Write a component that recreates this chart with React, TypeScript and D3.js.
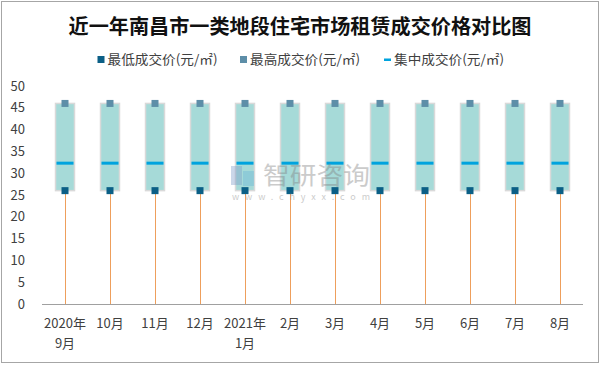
import React from "react";
import * as d3 from "d3";

const months = ["2020年\n9月", "10月", "11月", "12月", "2021年\n1月", "2月", "3月", "4月", "5月", "6月", "7月", "8月"];
const lowValues = [26, 26, 26, 26, 26, 26, 26, 26, 26, 26, 26, 26];
const highValues = [46, 46, 46, 46, 46, 46, 46, 46, 46, 46, 46, 46];
const medianValues = [32.3, 32.3, 32.3, 32.3, 32.3, 32.3, 32.3, 32.3, 32.3, 32.3, 32.3, 32.3];
const yTicks = [0, 5, 10, 15, 20, 25, 30, 35, 40, 45, 50];
const legendLabels = ["最低成交价(元/㎡)", "最高成交价(元/㎡)", "集中成交价(元/㎡)"];
const title = "近一年南昌市一类地段住宅市场租赁成交价格对比图";

const W = 600;
const H = 368;
const FONT = "'Noto Sans CJK SC', 'Noto Sans', sans-serif";

export default function App() {
  const x = d3.scaleBand<string>().domain(months).range([42.5, 582.5]).padding(0);
  const y = d3.scaleLinear().domain([0, 50]).range([304, 86]);
  const cx = (m: string) => (x(m) as number) + x.bandwidth() / 2;
  const boxW = 19;
  const mk = 7;

  const lowColor = "#0B5F86";
  const highColor = "#5D8EA8";
  const medColor = "#00A3DE";
  const textColor = "#404040";

  const legendItems = [
    { label: legendLabels[0], x: 97.5, type: "square", color: lowColor },
    { label: legendLabels[1], x: 240, type: "square", color: highColor },
    { label: legendLabels[2], x: 384, type: "dash", color: medColor },
  ];

  return (
    <svg width={W} height={H} style={{ position: "absolute", left: 0, top: 0, background: "#fff" }} fontFamily={FONT}>
      <rect x={1.5} y={1.5} width={W - 3} height={H - 7} fill="#fff" stroke="#A6A6A6" strokeWidth={1} />
      <text x={300} y={34} textAnchor="middle" fontSize={20} fontWeight="bold" fill="#111" textLength={463} lengthAdjust="spacingAndGlyphs">
        {title}
      </text>
      {legendItems.map((it, i) => (
        <g key={i}>
          {it.type === "square" ? (
            <rect x={it.x} y={56} width={7} height={7} fill={it.color} />
          ) : (
            <rect x={it.x} y={58.5} width={7} height={2.5} fill={it.color} />
          )}
          <text x={it.x + 10} y={64} fontSize={13} fill={textColor} textLength={110} lengthAdjust="spacingAndGlyphs">
            {it.label}
          </text>
        </g>
      ))}
      {yTicks.map((t) => (
        <text key={t} x={25} y={y(t) + 4.5} textAnchor="end" fontSize={13} fill={textColor}>
          {t}
        </text>
      ))}
      <line x1={42} x2={583} y1={304.5} y2={304.5} stroke="#A0A0A0" strokeWidth={1} />
      {months.map((m, i) => {
        const c = cx(m);
        return (
          <g key={m}>
            <line x1={c + 0.5} x2={c + 0.5} y1={y(0)} y2={y(lowValues[i])} stroke="#EE9F5C" strokeWidth={1} />
            <rect x={c - boxW / 2} y={y(highValues[i])} width={boxW} height={y(lowValues[i]) - y(highValues[i])} fill="#A6DAD8" stroke="#D9D9D9" strokeWidth={1.5} />
            <line x1={c - boxW / 2 + 1} x2={c + boxW / 2 - 1} y1={y(medianValues[i])} y2={y(medianValues[i])} stroke={medColor} strokeWidth={3} />
            <rect x={c - mk / 2} y={y(highValues[i]) - mk / 2} width={mk} height={mk} fill={highColor} />
            <rect x={c - mk / 2} y={y(lowValues[i]) - mk / 2} width={mk} height={mk} fill={lowColor} />
            {m.split("\n").map((line, j) => (
              <text key={j} x={c} y={328 + j * 20} textAnchor="middle" fontSize={13} fill={textColor}>
                {line}
              </text>
            ))}
          </g>
        );
      })}
      {/* watermark */}
      <g opacity={0.4}>
        <rect x={231} y={166} width={11} height={19} fill="#7E9CC9" />
        <rect x={243} y={171} width={11} height={15} fill="#6BB7D6" />
        <text x={263} y={184} fontSize={24} fill="#808080" textLength={107} lengthAdjust="spacingAndGlyphs">智研咨询</text>
        <text x={232} y={200} fontSize={9} fill="#808080" textLength={138} lengthAdjust="spacing">www.chyxx.com</text>
      </g>
    </svg>
  );
}
